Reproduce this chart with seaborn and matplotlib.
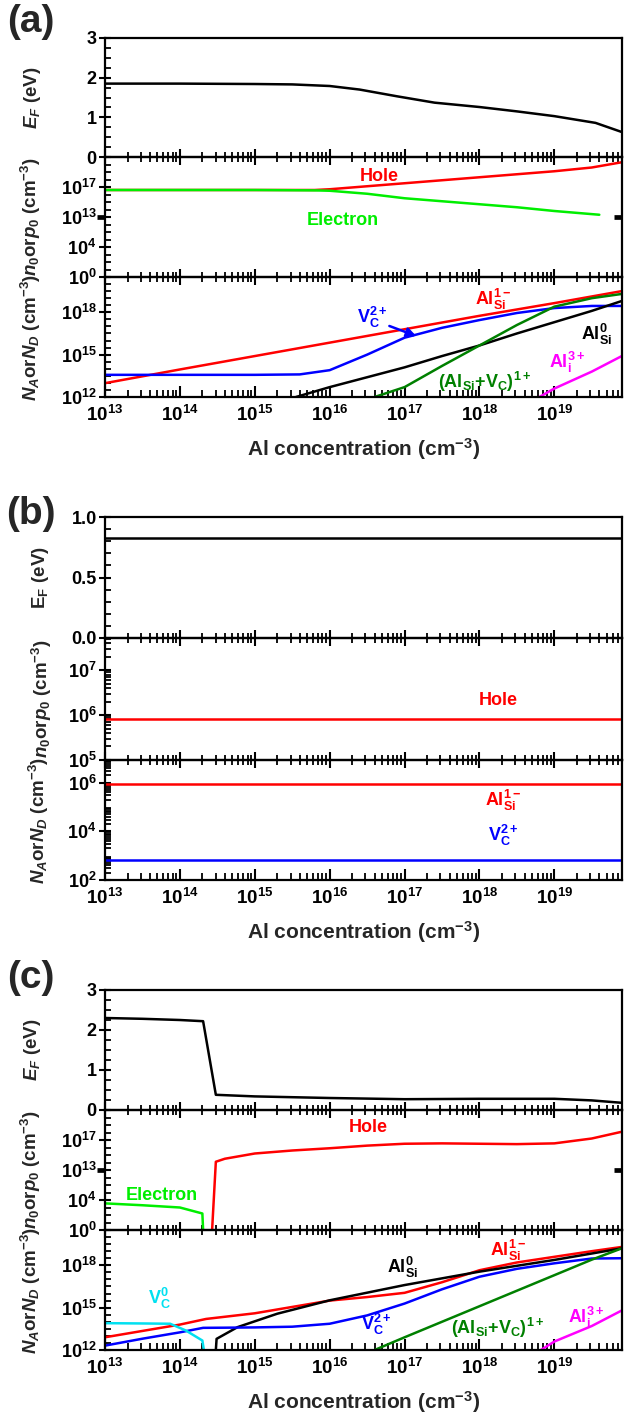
import numpy as np
import pandas as pd
import matplotlib
matplotlib.use("Agg")
import matplotlib.pyplot as plt
import seaborn as sns
from matplotlib.ticker import (FixedLocator, FixedFormatter, MultipleLocator,
                               NullFormatter, FormatStrFormatter)

# ---------------- data (x and log-scaled y values given as log10 exponents) ----------------
# Panel (a)
a_ef_lx = [13, 14, 15, 15.5, 16, 16.4, 16.9, 17.4, 18, 18.5, 19, 19.55, 19.9]
a_ef = [1.85, 1.85, 1.84, 1.83, 1.79, 1.70, 1.53, 1.37, 1.26, 1.15, 1.03, 0.86, 0.63]
a_hole_lx = [13, 14, 15, 15.8, 16, 16.5, 17, 17.5, 18, 18.5, 19, 19.5, 19.9]
a_hole = [16.6, 16.6, 16.6, 16.6, 16.7, 17.1, 17.5, 17.9, 18.3, 18.7, 19.1, 19.6, 20.3]
a_elec_lx = [13, 14, 15, 15.8, 16, 16.5, 17, 17.5, 18, 18.5, 19, 19.6]
a_elec = [16.6, 16.6, 16.6, 16.55, 16.5, 16.1, 15.5, 15.1, 14.7, 14.3, 13.8, 13.3]
a_alsi_m_lx = [13, 14, 15, 16, 17, 18, 19, 19.9]
a_alsi_m = [12.98, 13.95, 14.9, 15.85, 16.8, 17.75, 18.65, 19.5]
a_vc2_lx = [13, 14, 15, 15.6, 16, 16.5, 17, 17.5, 18, 18.5, 19, 19.5, 19.9]
a_vc2 = [13.57, 13.57, 13.57, 13.6, 13.9, 15.0, 16.2, 16.9, 17.45, 17.95, 18.3, 18.45, 18.45]
a_alsi0_lx = [15.55, 16, 16.5, 17, 17.5, 18, 18.5, 19, 19.5, 19.9]
a_alsi0 = [12.0, 12.7, 13.4, 14.1, 14.9, 15.65, 16.5, 17.3, 18.1, 18.8]
a_cplx_lx = [16.6, 17, 17.5, 18, 18.5, 19, 19.5, 19.9]
a_cplx = [12.0, 12.7, 14.2, 15.65, 17.1, 18.4, 19.0, 19.3]
a_ali_lx = [18.8, 19.0, 19.5, 19.9]
a_ali = [12.0, 12.6, 13.8, 14.9]

# Panel (b)
b_lx = [13, 19.9]
b_ef = [0.83, 0.83]
b_hole = [5.91, 5.91]
b_alsi_m = [5.93, 5.93]
b_vc2 = [2.82, 2.82]

# Panel (c)
c_ef_lx = [13, 13.5, 14, 14.31, 14.48, 15, 15.5, 16, 17, 18, 19, 19.5, 19.9]
c_ef = [2.30, 2.28, 2.25, 2.22, 0.38, 0.34, 0.32, 0.30, 0.27, 0.28, 0.28, 0.24, 0.18]
c_elec_lx = [13, 13.5, 14, 14.3, 14.31]
c_elec = [3.55, 3.3, 3.0, 2.2, 0.0]
c_hole_lx = [14.43, 14.48, 14.6, 15.0, 15.5, 16.0, 16.5, 17.0, 17.5, 18.0, 18.5, 19.0, 19.5, 19.9]
c_hole = [0.0, 14.1, 14.5, 15.2, 15.6, 15.9, 16.25, 16.5, 16.55, 16.5, 16.45, 16.55, 17.2, 18.1]
c_alsi_m_lx = [13, 13.5, 14, 14.35, 15, 15.5, 16, 16.5, 17, 17.5, 18, 18.5, 19, 19.5, 19.9]
c_alsi_m = [12.9, 13.35, 13.8, 14.2, 14.6, 15.05, 15.5, 15.75, 16.05, 16.8, 17.65, 18.2, 18.6, 19.0, 19.3]
c_alsi0_lx = [14.48, 14.49, 14.77, 15.3, 16, 17, 18, 19, 19.9]
c_alsi0 = [12.0, 12.79, 13.62, 14.57, 15.52, 16.6, 17.55, 18.38, 19.2]
c_vc2_lx = [13, 13.5, 14, 14.31, 14.6, 15, 15.5, 16, 16.5, 17, 17.5, 18, 18.5, 19, 19.5, 19.9]
c_vc2 = [12.31, 12.8, 13.25, 13.57, 13.58, 13.6, 13.65, 13.86, 14.45, 15.29, 16.3, 17.19, 17.75, 18.14, 18.48, 18.5]
c_vc0_lx = [13, 13.5, 13.87, 14.08, 14.3, 14.32]
c_vc0 = [13.9, 13.88, 13.86, 13.38, 12.67, 12.0]
c_cplx_lx = [16.6, 17, 17.5, 18, 18.5, 19, 19.5, 19.9]
c_cplx = [12.0, 12.9, 14.0, 15.1, 16.2, 17.3, 18.4, 19.2]
c_ali_lx = [18.82, 19.0, 19.5, 19.9]
c_ali = [12.0, 12.6, 13.7, 14.8]

xticks_exp = [13, 14, 15, 16, 17, 18, 19]

# ---------------- style ----------------
sns.set_theme(style="ticks")
plt.rcParams["font.family"] = ["Liberation Sans", "DejaVu Sans"]
plt.rcParams["font.weight"] = "bold"
plt.rcParams["axes.labelweight"] = "bold"
plt.rcParams["mathtext.fontset"] = "custom"
plt.rcParams["mathtext.rm"] = "Liberation Sans:bold"
plt.rcParams["mathtext.bf"] = "Liberation Sans:bold"
plt.rcParams["mathtext.sf"] = "Liberation Sans:bold"
plt.rcParams["mathtext.it"] = "Liberation Sans:bold:italic"
plt.rcParams["axes.linewidth"] = 1.6
plt.rcParams["axes.edgecolor"] = "black"
plt.rcParams["xtick.color"] = "black"
plt.rcParams["ytick.color"] = "black"
plt.rcParams["xtick.bottom"] = True
plt.rcParams["ytick.left"] = True

RED = "#ff0000"; BLUE = "#0000ff"; BLACK = "#000000"; OLIVE = "#008000"
MAG = "#ff00ff"; LIME = "#00ee00"; CYAN = "#00e0f0"

W, H = 624, 1418
fig = plt.figure(figsize=(W / 100, H / 100), dpi=100)
all_axes = []

def add_ax(top, bot, bottom_axis):
    ax = fig.add_axes([105 / W, 1 - bot / H, 517 / W, (bot - top) / H])
    ax.set_facecolor("none")
    all_axes.append((ax, bottom_axis))
    return ax

def brk_fwd(y):
    y = np.asarray(y, dtype=float)
    with np.errstate(divide="ignore", invalid="ignore"):
        l = np.log10(np.clip(y, 1e-300, None))
    return np.where(l <= 8, l / 16, np.where(l >= 13, 0.5 + (l - 13) / 16, 0.5))

def brk_inv(t):
    t = np.asarray(t, dtype=float)
    with np.errstate(over="ignore"):
        return np.where(t <= 0.5, 10 ** (16 * t), 10 ** (13 + 16 * (t - 0.5)))

def line(ax, lx, ly, color, logy=True):
    x = 10.0 ** np.asarray(lx, dtype=float)
    y = 10.0 ** np.asarray(ly, dtype=float) if logy else np.asarray(ly, dtype=float)
    df = pd.DataFrame({"x": x, "y": y})
    sns.lineplot(data=df, x="x", y="y", ax=ax, color=color, lw=1.8,
                 estimator=None, sort=False, legend=False)
    ax.set_xlabel(""); ax.set_ylabel("")

def setup_x(ax, bottom_axis):
    ax.set_xscale("log")
    ax.set_xlim(1e13, 8e19)
    ax.xaxis.set_major_locator(FixedLocator([10.0 ** e for e in xticks_exp]))
    minors = [m * 10.0 ** e for e in range(13, 20) for m in range(2, 10) if m * 10.0 ** e < 8e19]
    ax.xaxis.set_minor_locator(FixedLocator(minors))
    ax.xaxis.set_minor_formatter(NullFormatter())
    if bottom_axis:
        ax.xaxis.set_major_formatter(FixedFormatter([rf"$10^{{{e}}}$" for e in xticks_exp]))
    else:
        ax.xaxis.set_major_formatter(NullFormatter())

def style_ticks(ax, bottom_axis):
    if bottom_axis:
        ax.tick_params(axis="x", which="major", direction="in", length=8, width=1.5,
                       labelsize=13.5, pad=6, bottom=True, top=False, labelbottom=True)
        ax.tick_params(axis="x", which="minor", direction="in", length=5, width=1.3,
                       bottom=True, top=False)
    else:
        ax.tick_params(axis="x", which="major", direction="inout", length=11, width=1.5,
                       bottom=True, top=False, labelbottom=False)
        ax.tick_params(axis="x", which="minor", direction="inout", length=7, width=1.3,
                       bottom=True, top=False)
    ax.tick_params(axis="y", which="major", direction="inout", length=8, width=1.5,
                   labelsize=13, left=True, right=False, pad=2)
    ax.tick_params(axis="y", which="minor", direction="in", length=4, width=1.3,
                   left=True, right=False)

def ef_axis(ax, top, step, minor, fmt):
    ax.set_ylim(0, top)
    ax.yaxis.set_major_locator(MultipleLocator(step))
    ax.yaxis.set_minor_locator(MultipleLocator(minor))
    ax.yaxis.set_major_formatter(FormatStrFormatter(fmt))

def broken_axis(ax):
    ax.set_yscale("function", functions=(brk_fwd, brk_inv))
    ax.set_ylim(1, 1e21)
    ax.yaxis.set_major_locator(FixedLocator([1, 1e4, 1e13, 1e17]))
    ax.yaxis.set_major_formatter(FixedFormatter([r"$10^0$", r"$10^4$", r"$10^{13}$", r"$10^{17}$"]))
    minors = [10.0 ** k for k in range(1, 9) if k != 4] + [10.0 ** k for k in range(14, 22) if k != 17]
    ax.yaxis.set_minor_locator(FixedLocator(minors))
    ax.yaxis.set_minor_formatter(NullFormatter())
    for xs in ([-0.016, 0.0], [0.984, 1.0]):
        ax.plot(xs, [0.5, 0.5], transform=ax.transAxes, color="black", lw=3.4,
                clip_on=False, solid_capstyle="butt")

def log_axis(ax, lo, hi, majors, dense_minor):
    ax.set_yscale("log")
    ax.set_ylim(10.0 ** lo, 10.0 ** hi)
    ax.yaxis.set_major_locator(FixedLocator([10.0 ** m for m in majors]))
    ax.yaxis.set_major_formatter(FixedFormatter([rf"$10^{{{m}}}$" for m in majors]))
    if dense_minor:
        minors = [m * 10.0 ** e for e in range(int(lo), int(hi) + 1) for m in range(2, 10)]
    else:
        minors = [10.0 ** (k / 2) for k in range(int(2 * lo), int(2 * hi) + 1) if (k / 2) not in majors]
    ax.yaxis.set_minor_locator(FixedLocator(minors))
    ax.yaxis.set_minor_formatter(NullFormatter())

def lab(ax, x, y, s, color, size=13):
    ax.text(x, y, s, transform=ax.transAxes, color=color, fontsize=size,
            fontweight="bold", ha="center", va="center")

EF_LABEL = r"$E_F$ (eV)"
N_LABEL = r"$n_0$or$p_0$ (cm$^{-3}$)"
D_LABEL = r"$N_A$or$N_D$ (cm$^{-3}$)"
XLABEL = r"Al concentration (cm$^{-3}$)"

AL_M = r"Al$_{\mathrm{Si}}^{\mathrm{1-}}$"
AL_0 = r"Al$_{\mathrm{Si}}^{\mathrm{0}}$"
VC2 = r"V$_{\mathrm{C}}^{\mathrm{2+}}$"
VC0 = r"V$_{\mathrm{C}}^{\mathrm{0}}$"
CPLX = r"(Al$_{\mathrm{Si}}$+V$_{\mathrm{C}}$)$^{\mathrm{1+}}$"
ALI = r"Al$_{\mathrm{i}}^{\mathrm{3+}}$"

def ylab(ax, s, xc=-0.12, size=13.5):
    ax.set_ylabel(s, fontsize=size, fontweight="bold")
    ax.yaxis.set_label_coords(xc, 0.5)

def xlab(ax):
    ax.set_xlabel(XLABEL, fontsize=15, fontweight="bold", labelpad=8)

# ---------------- panel (a) ----------------
ta = [38, 157, 277, 397]
ax1 = add_ax(ta[0], ta[1], False); ax2 = add_ax(ta[1], ta[2], False); ax3 = add_ax(ta[2], ta[3], True)
line(ax1, a_ef_lx, a_ef, BLACK, logy=False)
setup_x(ax1, False); ef_axis(ax1, 3, 1, 0.25, "%d"); ylab(ax1, EF_LABEL)
line(ax2, a_hole_lx, a_hole, RED); line(ax2, a_elec_lx, a_elec, LIME)
setup_x(ax2, False); broken_axis(ax2); ylab(ax2, N_LABEL)
lab(ax2, 0.53, 0.835, "Hole", RED); lab(ax2, 0.46, 0.47, "Electron", LIME)
line(ax3, a_alsi_m_lx, a_alsi_m, RED); line(ax3, a_vc2_lx, a_vc2, BLUE)
line(ax3, a_alsi0_lx, a_alsi0, BLACK); line(ax3, a_cplx_lx, a_cplx, OLIVE)
line(ax3, a_ali_lx, a_ali, MAG)
setup_x(ax3, True); log_axis(ax3, 12, 20.5, [12, 15, 18], False); ylab(ax3, D_LABEL)
xlab(ax3)
lab(ax3, 0.75, 0.81, AL_M, RED); lab(ax3, 0.516, 0.66, VC2, BLUE)
ax3.annotate("", xy=(0.607, 0.50), xytext=(0.545, 0.60), xycoords="axes fraction",
             arrowprops=dict(arrowstyle="-|>", color=BLUE, lw=1.8, mutation_scale=14))
lab(ax3, 0.95, 0.52, AL_0, BLACK); lab(ax3, 0.894, 0.29, ALI, MAG)
lab(ax3, 0.735, 0.125, CPLX, OLIVE)

# ---------------- panel (b) ----------------
tb = [517, 638, 760, 880]
bx1 = add_ax(tb[0], tb[1], False); bx2 = add_ax(tb[1], tb[2], False); bx3 = add_ax(tb[2], tb[3], True)
line(bx1, b_lx, b_ef, BLACK, logy=False)
setup_x(bx1, False); ef_axis(bx1, 1.0, 0.5, 0.1, "%.1f"); ylab(bx1, r"E$_{\mathrm{F}}$ (eV)", -0.105)
line(bx2, b_lx, b_hole, RED)
setup_x(bx2, False); log_axis(bx2, 5, 7.72, [5, 6, 7], True); ylab(bx2, N_LABEL, -0.098)
lab(bx2, 0.76, 0.49, "Hole", RED)
line(bx3, b_lx, b_alsi_m, RED); line(bx3, b_lx, b_vc2, BLUE)
setup_x(bx3, True); log_axis(bx3, 2, 6.93, [2, 4, 6], True); ylab(bx3, D_LABEL, -0.105)
xlab(bx3)
lab(bx3, 0.77, 0.66, AL_M, RED); lab(bx3, 0.77, 0.37, VC2, BLUE)

# ---------------- panel (c) ----------------
tc = [990, 1110, 1230, 1350]
cx1 = add_ax(tc[0], tc[1], False); cx2 = add_ax(tc[1], tc[2], False); cx3 = add_ax(tc[2], tc[3], True)
line(cx1, c_ef_lx, c_ef, BLACK, logy=False)
setup_x(cx1, False); ef_axis(cx1, 3, 1, 0.25, "%d"); ylab(cx1, EF_LABEL)
line(cx2, c_elec_lx, c_elec, LIME); line(cx2, c_hole_lx, c_hole, RED)
setup_x(cx2, False); broken_axis(cx2); ylab(cx2, N_LABEL)
lab(cx2, 0.51, 0.85, "Hole", RED); lab(cx2, 0.11, 0.29, "Electron", LIME)
line(cx3, c_alsi_m_lx, c_alsi_m, RED); line(cx3, c_alsi0_lx, c_alsi0, BLACK)
line(cx3, c_vc2_lx, c_vc2, BLUE); line(cx3, c_vc0_lx, c_vc0, CYAN)
line(cx3, c_cplx_lx, c_cplx, OLIVE); line(cx3, c_ali_lx, c_ali, MAG)
setup_x(cx3, True); log_axis(cx3, 12, 20.5, [12, 15, 18], False); ylab(cx3, D_LABEL)
xlab(cx3)
lab(cx3, 0.575, 0.69, AL_0, BLACK); lab(cx3, 0.78, 0.83, AL_M, RED)
lab(cx3, 0.105, 0.43, VC0, CYAN); lab(cx3, 0.524, 0.21, VC2, BLUE)
lab(cx3, 0.76, 0.18, CPLX, OLIVE); lab(cx3, 0.93, 0.27, ALI, MAG)

for ax, b in all_axes:
    style_ticks(ax, b)

# panel letters
for txt, ypx in (("(a)", 22), ("(b)", 514), ("(c)", 978)):
    fig.text(31 / W, 1 - ypx / H, txt, fontsize=28, fontweight="bold", ha="center", va="center")

fig.savefig("out.png", dpi=100)
